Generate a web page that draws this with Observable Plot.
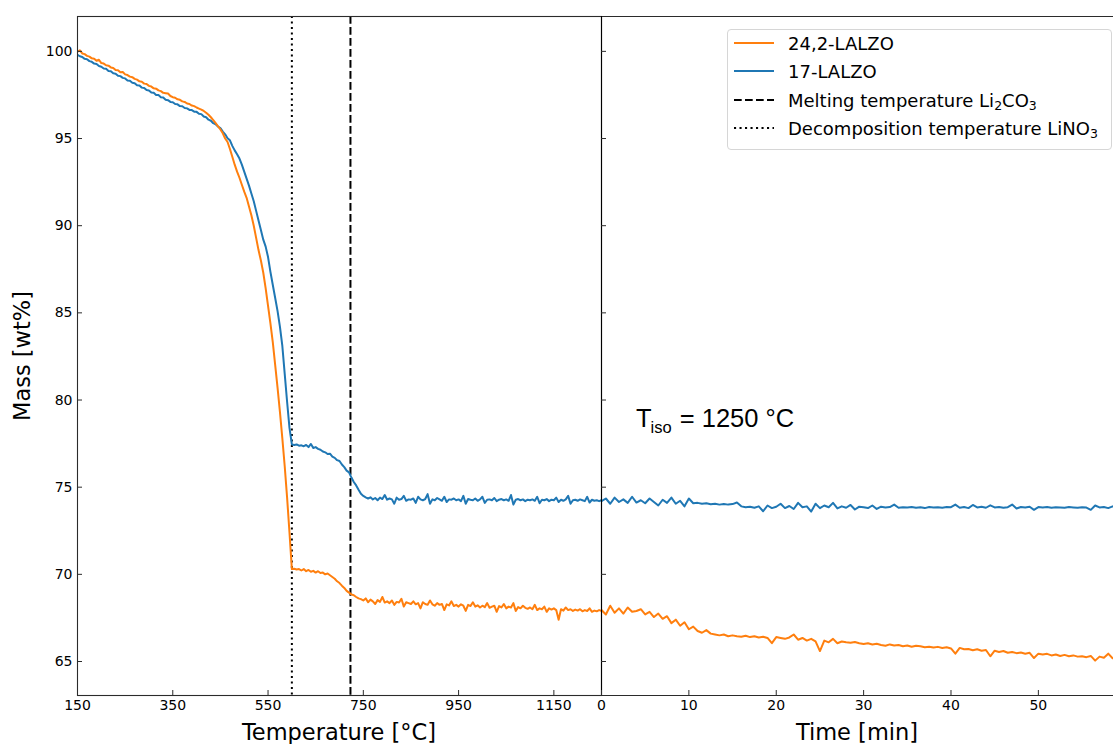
<!DOCTYPE html>
<html><head><meta charset="utf-8">
<script src="https://cdn.jsdelivr.net/npm/d3@7"></script>
<script src="https://cdn.jsdelivr.net/npm/@observablehq/plot@0.6"></script>
<style>
body{margin:0;background:#fff;}
#wrap{position:relative;width:1113px;height:744px;overflow:hidden;font-family:"DejaVu Sans",sans-serif;color:#000;}
#left{position:absolute;left:0;top:0;}
#right{position:absolute;left:601px;top:0;}
.lab{position:absolute;font-size:22.5px;line-height:22px;white-space:nowrap;}
#legend{position:absolute;left:727px;top:29px;width:383px;height:119px;border:1px solid #d6d6d6;border-radius:4px;background:rgba(255,255,255,0.85);}
.row{position:absolute;left:6px;height:28px;display:flex;align-items:center;font-size:18px;white-space:nowrap;}
.row svg{width:40px;height:4px;margin-right:14px;}
.row sub{font-size:12.5px;vertical-align:-3px;line-height:0;}
#tiso{position:absolute;left:636px;top:406px;font-family:"Liberation Sans",Arial,sans-serif;font-size:25.5px;line-height:24px;white-space:nowrap;}
#tiso sub{font-size:16.5px;vertical-align:-6px;line-height:0;margin-left:-1px;margin-right:1px;}
</style></head>
<body>
<div id="wrap">
  <div id="left"></div>
  <div id="right"></div>
  <div class="lab" style="left:77px;width:524px;top:721px;text-align:center;">Temperature [°C]</div>
  <div class="lab" style="left:601px;width:512px;top:721px;text-align:center;">Time [min]</div>
  <div class="lab" style="left:22px;top:356px;transform:translate(-50%,-50%) rotate(-90deg);transform-origin:center;">Mass [wt%]</div>
  <div id="tiso">T<sub>iso</sub> = 1250 °C</div>
  <div id="legend"></div>
</div>
<script>
// ---- data ----
const seriesNames = ["24,2-LALZO", "17-LALZO"];
const seriesColors = ["#ff7f0e", "#1f77b4"];
const meltingLabel = "Melting temperature Li<sub>2</sub>CO<sub>3</sub>";
const decompLabel = "Decomposition temperature LiNO<sub>3</sub>";
const meltingT = 723;
const decompT = 600;
const tempTicks = [150, 350, 550, 750, 950, 1150];
const timeTicks = [0, 10, 20, 30, 40, 50];
const massTicks = [65, 70, 75, 80, 85, 90, 95, 100];

// temperature grid 150..1250 °C every 5 °C
const tempC = d3.range(150, 1251, 5);
const mass17Temp = [
 99.80, 99.72, 99.68, 99.57, 99.55, 99.44, 99.40, 99.30, 99.27, 99.16,
 99.12, 99.02, 99.00, 98.88, 98.86, 98.74, 98.72, 98.60, 98.58, 98.48,
 98.45, 98.33, 98.31, 98.20, 98.17, 98.05, 98.04, 97.92, 97.90, 97.78,
 97.76, 97.64, 97.62, 97.50, 97.49, 97.37, 97.35, 97.22, 97.20, 97.10,
 97.08, 96.98, 96.96, 96.86, 96.85, 96.75, 96.73, 96.64, 96.63, 96.54,
 96.53, 96.42, 96.40, 96.26, 96.22, 96.08, 96.02, 95.88, 95.82, 95.68,
 95.60, 95.40, 95.24, 95.02, 94.90, 94.58, 94.32, 94.10, 93.85, 93.50,
 93.10, 92.70, 92.30, 91.85, 91.40, 90.85, 90.30, 89.75, 89.20, 88.80,
 88.20, 87.35, 86.60, 85.85, 85.10, 84.20, 83.10, 81.50, 79.90, 78.40,
 77.45, 77.42, 77.45, 77.38, 77.40, 77.35, 77.42, 77.30, 77.48, 77.25,
 77.30, 77.20, 77.15, 77.05, 77.00, 76.90, 76.92, 76.75, 76.68, 76.55,
 76.50, 76.30, 76.15, 75.95, 75.85, 75.55, 75.30, 75.10, 74.85, 74.62,
 74.50, 74.42, 74.35, 74.42, 74.30, 74.38, 74.25, 74.40, 74.32, 74.55,
 74.28, 74.35, 74.30, 74.05, 74.40, 74.28, 74.32, 74.50, 74.22, 74.30,
 74.28, 74.35, 74.10, 74.45, 74.30, 74.25, 74.32, 74.60, 74.05, 74.30,
 74.25, 74.38, 74.30, 74.22, 74.45, 74.15, 74.30, 74.28, 74.35, 74.25,
 74.30, 74.20, 74.50, 74.05, 74.32, 74.28, 74.25, 74.35, 74.22, 74.30,
 74.45, 74.10, 74.28, 74.30, 74.25, 74.38, 74.20, 74.28, 74.32, 74.25,
 74.30, 74.22, 74.55, 74.00, 74.28, 74.32, 74.25, 74.30, 74.20, 74.28,
 74.25, 74.30, 74.22, 74.45, 74.08, 74.28, 74.25, 74.32, 74.20, 74.28,
 74.25, 74.40, 74.15, 74.28, 74.22, 74.30, 74.50, 74.05, 74.25, 74.28,
 74.22, 74.30, 74.25, 74.20, 74.45, 74.12, 74.28, 74.22, 74.25, 74.20,
 74.25
];
const mass242Temp = [
 99.98, 100.06, 99.88, 99.84, 99.74, 99.70, 99.60, 99.58, 99.46, 99.52,
 99.33, 99.30, 99.20, 99.18, 99.08, 99.05, 98.93, 98.92, 98.80, 98.82,
 98.68, 98.64, 98.55, 98.52, 98.42, 98.38, 98.28, 98.26, 98.15, 98.13,
 98.02, 97.98, 97.88, 97.86, 97.76, 97.72, 97.62, 97.60, 97.58, 97.44,
 97.37, 97.34, 97.25, 97.22, 97.13, 97.10, 97.01, 96.98, 96.89, 96.86,
 96.78, 96.72, 96.66, 96.58, 96.48, 96.36, 96.22, 96.06, 95.88, 95.70,
 95.52, 95.30, 95.00, 94.80, 94.40, 93.95, 93.50, 93.10, 92.75, 92.35,
 91.95, 91.60, 91.10, 90.60, 90.00, 89.30, 88.60, 88.00, 87.30, 86.40,
 85.40, 84.40, 83.30, 82.00, 80.70, 79.30, 77.80, 76.20, 74.40, 72.40,
 70.30, 70.32, 70.28, 70.30, 70.22, 70.30, 70.18, 70.25, 70.15, 70.20,
 70.10, 70.18, 70.08, 70.10, 70.00, 70.05, 69.95, 69.85, 69.75, 69.60,
 69.50, 69.35, 69.22, 69.05, 68.95, 68.85, 68.80, 68.70, 68.62, 68.58,
 68.50, 68.62, 68.40, 68.55, 68.45, 68.30, 68.52, 68.42, 68.70, 68.38,
 68.45, 68.35, 68.50, 68.25, 68.42, 68.38, 68.60, 68.15, 68.40, 68.35,
 68.30, 68.45, 68.28, 68.35, 68.05, 68.40, 68.30, 68.25, 68.50, 68.28,
 68.20, 68.35, 68.25, 68.30, 67.95, 68.28, 68.22, 68.45, 68.18, 68.25,
 68.15, 68.28, 68.20, 67.90, 68.25, 68.18, 68.40, 68.15, 68.22, 68.10,
 68.20, 68.12, 68.35, 68.08, 68.15, 68.20, 67.85, 68.18, 68.10, 68.30,
 68.05, 68.15, 68.10, 68.35, 67.90, 68.12, 68.05, 68.20, 68.08, 68.02,
 68.10, 68.00, 68.25, 67.95, 68.05, 68.00, 68.15, 67.85, 68.05, 67.98,
 68.05, 67.95, 67.40, 68.00, 67.92, 68.10, 67.95, 68.00, 67.90, 67.98,
 67.92, 68.00, 67.88, 67.95, 67.90, 68.05, 67.85, 67.92, 67.88, 67.95,
 67.90
];

// isothermal time grid 0..59 min every 0.5 min
const timeMin = d3.range(0, 59.01, 0.5);
const mass17Time = [
 74.20, 74.35, 74.05, 74.40, 74.15, 74.30, 74.10, 74.45, 74.12, 74.25,
 74.08, 74.35, 74.15, 73.95, 74.28, 74.10, 74.40, 74.05, 74.22, 73.90,
 74.35, 74.08, 74.10, 74.05, 74.08, 74.02, 74.05, 74.00, 74.04, 74.00,
 74.03, 74.12, 73.90, 73.85, 73.88, 73.82, 73.90, 73.62, 73.95, 73.80,
 73.88, 74.05, 73.80, 73.92, 73.75, 74.10, 73.85, 73.90, 73.60, 74.05,
 73.80, 73.95, 73.85, 74.10, 73.78, 73.90, 73.82, 73.98, 73.72, 73.88,
 73.85, 73.80, 73.95, 73.75, 73.88, 73.84, 73.86, 74.00, 73.82, 73.85,
 73.83, 73.86, 73.82, 73.85, 73.80, 73.86, 73.84, 73.85, 73.82, 73.86,
 73.85, 74.00, 73.82, 73.86, 73.80, 73.98, 73.84, 73.88, 73.82, 73.96,
 73.84, 73.86, 73.82, 73.85, 74.00, 73.78, 73.86, 73.84, 73.88, 73.70,
 73.86, 73.84, 73.86, 73.82, 73.85, 73.84, 73.82, 73.86, 73.84, 73.82,
 73.85, 73.83, 73.70, 73.95, 73.84, 73.86, 73.80, 73.90, 73.85
];
const mass242Time = [
 67.95, 67.70, 68.20, 67.80, 68.05, 67.75, 68.10, 67.85, 67.90, 68.00,
 67.70, 67.85, 67.55, 67.75, 67.45, 67.60, 67.20, 67.40, 67.05, 67.25,
 66.85, 67.00, 66.75, 66.65, 66.80, 66.60, 66.55, 66.50, 66.55, 66.45,
 66.50, 66.45, 66.42, 66.48, 66.40, 66.45, 66.38, 66.42, 66.35, 66.05,
 66.40, 66.35, 66.30, 66.38, 66.55, 66.25, 66.35, 66.20, 66.30, 66.15,
 65.60, 66.20, 66.10, 66.30, 66.05, 66.15, 66.10, 66.08, 66.12, 66.05,
 66.00, 66.05, 65.98, 66.02, 65.95, 65.90, 65.98, 65.92, 65.95, 65.88,
 65.92, 65.85, 65.90, 65.88, 65.82, 65.85, 65.80, 65.84, 65.78, 65.82,
 65.75, 65.45, 65.78, 65.70, 65.72, 65.65, 65.70, 65.62, 65.66, 65.30,
 65.62, 65.55, 65.60, 65.50, 65.55, 65.48, 65.52, 65.45, 65.50, 65.20,
 65.45, 65.40, 65.44, 65.35, 65.40, 65.32, 65.38, 65.30, 65.35, 65.28,
 65.30, 65.25, 65.32, 65.05, 65.28, 65.22, 65.45, 65.18, 65.22
];

const tempDomain = [150, 1250];
const timeDomain = [0, 58.6];
const massDomain = [63.05, 102];

// ---- tables ----
const rows = (xs, ys) => xs.map((x, i) => ({x, y: ys[i]}));
const l17 = rows(tempC, mass17Temp), l242 = rows(tempC, mass242Temp);
const r17 = rows(timeMin, mass17Time), r242 = rows(timeMin, mass242Time);

const spine = "#2b2b2b";
const plain = d => String(d);
const baseStyle = {fontFamily: "DejaVu Sans, sans-serif", fontSize: "14px", color: "#000", background: "transparent", overflow: "visible"};

const left = Plot.plot({
  width: 601, height: 744,
  marginLeft: 77, marginRight: 0, marginTop: 16, marginBottom: 49,
  style: baseStyle,
  x: {domain: tempDomain},
  y: {domain: massDomain},
  marks: [
    Plot.ruleX([decompT], {stroke: "#000", strokeWidth: 2, strokeDasharray: "2.1,3.4"}),
    Plot.ruleX([meltingT], {stroke: "#000", strokeWidth: 2, strokeDasharray: "7.7,3.3"}),
    Plot.line(l17, {x: "x", y: "y", stroke: seriesColors[1], strokeWidth: 2, clip: true}),
    Plot.line(l242, {x: "x", y: "y", stroke: seriesColors[0], strokeWidth: 2, clip: true}),
    Plot.frame({stroke: spine, strokeWidth: 1.1}),
    Plot.axisX(tempTicks, {tickSize: -5, tickPadding: 10, stroke: spine, tickFormat: plain, label: null}),
    Plot.axisY(massTicks, {tickSize: -5, tickPadding: 10, stroke: spine, tickFormat: plain, label: null})
  ]
});
document.getElementById("left").appendChild(left);

const right = Plot.plot({
  width: 512, height: 744,
  marginLeft: 0, marginRight: 0, marginTop: 16, marginBottom: 49,
  style: baseStyle,
  x: {domain: timeDomain},
  y: {domain: massDomain},
  marks: [
    Plot.line(r17, {x: "x", y: "y", stroke: seriesColors[1], strokeWidth: 2, clip: true}),
    Plot.line(r242, {x: "x", y: "y", stroke: seriesColors[0], strokeWidth: 2, clip: true}),
    Plot.ruleY([massDomain[0]], {stroke: spine, strokeWidth: 1.1}),
    Plot.ruleY([massDomain[1]], {stroke: spine, strokeWidth: 1.1}),
    Plot.ruleX([timeDomain[0]], {stroke: "#000", strokeWidth: 1.1}),
    Plot.axisX(timeTicks, {tickSize: -5, tickPadding: 10, stroke: spine, tickFormat: plain, label: null}),
    Plot.axisY(massTicks, {tickSize: -5, tickFormat: () => "", stroke: spine, label: null})
  ]
});
document.getElementById("right").appendChild(right);

// ---- legend ----
const legendItems = [
  {label: seriesNames[0], color: seriesColors[0], dash: null, cy: 43},
  {label: seriesNames[1], color: seriesColors[1], dash: null, cy: 71},
  {label: meltingLabel, color: "#000", dash: "7.7,3.3", cy: 100},
  {label: decompLabel, color: "#000", dash: "2.1,3.4", cy: 128}
];
const lg = document.getElementById("legend");
legendItems.forEach(it => {
  const row = document.createElement("div");
  row.className = "row";
  row.style.top = (it.cy - 29 - 1 - 14) + "px";
  row.innerHTML = `<svg viewBox="0 0 40 4"><line x1="0" y1="2" x2="40" y2="2" stroke="${it.color}" stroke-width="2"${it.dash ? ` stroke-dasharray="${it.dash}"` : ""}/></svg><span>${it.label}</span>`;
  lg.appendChild(row);
});
</script>
</body></html>
